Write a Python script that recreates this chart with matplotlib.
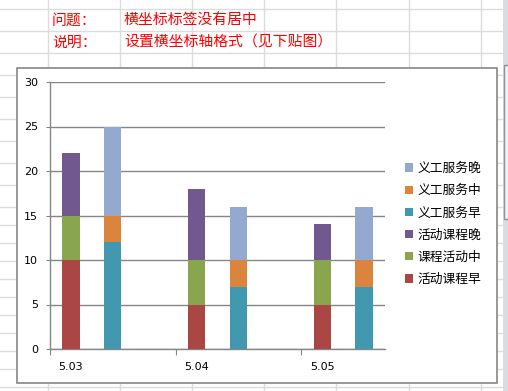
import matplotlib
matplotlib.use("Agg")
import matplotlib.pyplot as plt
from matplotlib.patches import Rectangle, Patch
import numpy as np

W, H = 508, 391
CJK = ["Noto Sans CJK SC", "DejaVu Sans"]

# data
dates = ["5.03", "5.04", "5.05"]
act_early = [10, 5, 5]   # 活动课程早
act_mid = [5, 5, 5]      # 课程活动中
act_late = [7, 8, 4]     # 活动课程晚
vol_early = [12, 7, 7]   # 义工服务早
vol_mid = [3, 3, 3]      # 义工服务中
vol_late = [10, 6, 6]    # 义工服务晚

series_names = ["活动课程早", "课程活动中", "活动课程晚", "义工服务早", "义工服务中", "义工服务晚"]
colors = ["#AA4643", "#89A54E", "#71588F", "#4198AF", "#DB843D", "#93A9CF"]

notes_left = ["问题：", "说明："]
notes_right = ["横坐标标签没有居中", "设置横坐标轴格式（见下贴图）"]


def px_axes(fig, x0, y0, x1, y1, **kw):
    return fig.add_axes([x0 / W, 1 - y1 / H, (x1 - x0) / W, (y1 - y0) / H], **kw)


fig = plt.figure(figsize=(W / 100, H / 100), dpi=100)
fig.patch.set_facecolor("white")

# spreadsheet background
bg = px_axes(fig, 0, 0, W, H)
bg.set_xlim(0, W)
bg.set_ylim(H, 0)
bg.axis("off")
grid_c = "#DADCDD"
for x in np.arange(48, W, 72.1):
    bg.plot([x, x], [0, H], color=grid_c, lw=1)
rows = list(np.arange(9.3, 210, 22)) + list(np.arange(225.3, H, 18))
for y in rows:
    bg.plot([0, 503], [y, y], color=grid_c, lw=1)
bg.add_patch(Rectangle((503, 0), 5, H, facecolor="#D8DCE3", edgecolor="none", zorder=3))
bg.add_patch(Rectangle((503.5, 65), 5, 154, facecolor="#EEF1F5", edgecolor="#8A94A0", lw=1, zorder=4))

for i, (a, b) in enumerate(zip(notes_left, notes_right)):
    y = 20.5 + 22 * i
    bg.text(52, y, a, color="#FF0000", fontsize=10.7, family=CJK, va="center", ha="left")
    bg.text(124, y, b, color="#FF0000", fontsize=10.7, family=CJK, va="center", ha="left")

# chart area
bg.add_patch(Rectangle((16.5, 67.5), 480, 315.5, facecolor="white", edgecolor="#868686", lw=1.2, zorder=5))

ax = px_axes(fig, 50, 82, 385, 349)
ax.set_zorder(10)
ax.patch.set_alpha(0)

n = len(dates)
pos_act = np.arange(n) * 3
pos_vol = np.arange(n) * 3 + 1
width = 0.41

bottoms = np.zeros(n)
for vals, c in zip([act_early, act_mid, act_late], colors[:3]):
    ax.bar(pos_act, vals, width, bottom=bottoms, color=c, zorder=3)
    bottoms = bottoms + np.array(vals)
bottoms = np.zeros(n)
for vals, c in zip([vol_early, vol_mid, vol_late], colors[3:]):
    ax.bar(pos_vol, vals, width, bottom=bottoms, color=c, zorder=3)
    bottoms = bottoms + np.array(vals)

# 8 category slots: the blank third slot of the last date is cut off
ax.set_xlim(-0.5, 3 * n - 1.5)
ax.set_ylim(0, 30)
ax.set_yticks(np.arange(0, 31, 5))
ax.yaxis.grid(True, color="#868686", lw=1)
ax.set_axisbelow(True)
for s in ["top", "right"]:
    ax.spines[s].set_visible(False)
for s in ["left", "bottom"]:
    ax.spines[s].set_color("#868686")
    ax.spines[s].set_linewidth(1)
ax.tick_params(axis="y", length=3, color="#868686", pad=5.5, labelsize=8)
ax.set_xticks(np.arange(n) * 3 - 0.5)
ax.set_xticklabels([])
ax.tick_params(axis="x", which="major", length=4, color="#868686")
ax.set_xticks(pos_act, minor=True)
ax.set_xticklabels(dates, minor=True)
ax.tick_params(axis="x", which="minor", length=0, pad=9.5, labelsize=8)

handles = [Patch(facecolor=c, edgecolor="none") for c in colors][::-1]
fig.legend(handles, series_names[::-1], loc="center left",
           bbox_to_anchor=(405 / W, 1 - 224 / H), frameon=False,
           prop={"family": CJK, "size": 9.2}, handlelength=0.6, handleheight=0.6,
           handletextpad=0.35, labelspacing=0.72, borderpad=0, borderaxespad=0)

fig.savefig("out.png", dpi=100)
